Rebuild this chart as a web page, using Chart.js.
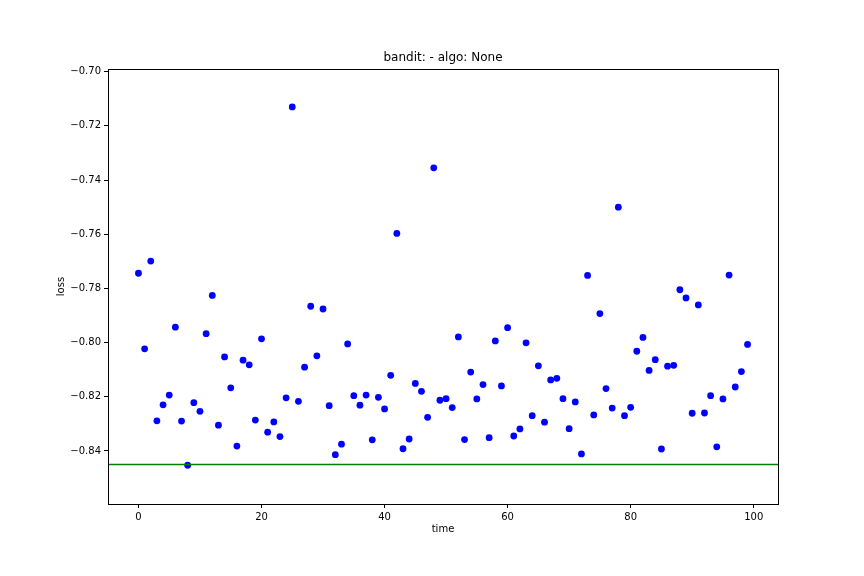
<!DOCTYPE html>
<html>
<head>
<meta charset="utf-8">
<script src="https://cdn.jsdelivr.net/npm/chart.js@4"></script>
<style>
  body { margin: 0; background: #fff; }
</style>
</head>
<body>
<canvas id="lossChart" width="864" height="576"></canvas>
<script>
// loss per time step
const lossValues = [
  -0.7744, -0.8023, -0.7699, -0.8289, -0.8230, -0.8194, -0.7943, -0.8290, -0.8453, -0.8222,
  -0.8254, -0.7967, -0.7826, -0.8305, -0.8053, -0.8167, -0.8382, -0.8065, -0.8082, -0.8286,
  -0.7986, -0.8331, -0.8293, -0.8347, -0.8204, -0.7130, -0.8217, -0.8091, -0.7866, -0.8049,
  -0.7876, -0.8233, -0.8414, -0.8375, -0.8005, -0.8196, -0.8231, -0.8194, -0.8359, -0.8202,
  -0.8245, -0.8121, -0.7597, -0.8392, -0.8356, -0.8151, -0.8180, -0.8276, -0.7355, -0.8213,
  -0.8207, -0.8240, -0.7979, -0.8358, -0.8109, -0.8208, -0.8155, -0.8351, -0.7994, -0.8160,
  -0.7945, -0.8345, -0.8319, -0.8001, -0.8270, -0.8086, -0.8294, -0.8138, -0.8132, -0.8207,
  -0.8318, -0.8219, -0.8411, -0.7752, -0.8267, -0.7893, -0.8170, -0.8242, -0.7500, -0.8270,
  -0.8239, -0.8032, -0.7981, -0.8103, -0.8063, -0.8393, -0.8087, -0.8084, -0.7805, -0.7835,
  -0.8261, -0.7861, -0.8260, -0.8196, -0.8385, -0.8208, -0.7751, -0.8164, -0.8107, -0.8007
];
const timeSteps = lossValues.map((_, i) => i);
const baselineLoss = -0.845;

const xTicks = [0, 20, 40, 60, 80, 100];
const yTicks = [-0.84, -0.82, -0.80, -0.78, -0.76, -0.74, -0.72, -0.70];
const chartTitle = 'bandit: - algo: None';

const X_MIN = -4.95, X_MAX = 103.95;
const Y_MIN = -0.8596, Y_MAX = -0.699;
const FONT = 'DejaVu Sans';

// frame around the plot area + title centred over the axes (like matplotlib)
const framePlugin = {
  id: 'frame',
  afterDraw(chart) {
    const { ctx, chartArea: a } = chart;
    ctx.save();
    ctx.strokeStyle = '#000';
    ctx.lineWidth = 1;
    ctx.strokeRect(Math.round(a.left) + 0.5, Math.round(a.top) + 0.5,
                   Math.round(a.right - a.left), Math.round(a.bottom - a.top));
    ctx.fillStyle = '#000';
    ctx.font = '12px "' + FONT + '"';
    ctx.textAlign = 'center';
    ctx.textBaseline = 'middle';
    ctx.fillText(chartTitle, (a.left + a.right) / 2, a.top - 11);
    ctx.restore();
  }
};

const ctx = document.getElementById('lossChart').getContext('2d');
new Chart(ctx, {
  type: 'scatter',
  data: {
    datasets: [
      {
        type: 'line',
        data: [{ x: X_MIN, y: baselineLoss }, { x: X_MAX, y: baselineLoss }],
        borderColor: '#008000',
        borderWidth: 1.5,
        pointRadius: 0,
        fill: false
      },
      {
        data: timeSteps.map((t, i) => ({ x: t, y: lossValues[i] })),
        backgroundColor: '#0000ff',
        borderColor: '#0000ff',
        borderWidth: 0,
        pointRadius: 3.4
      }
    ]
  },
  options: {
    responsive: false,
    animation: false,
    layout: { padding: { left: 0, right: 86, top: 69, bottom: 0 } },
    plugins: {
      legend: { display: false },
      tooltip: { enabled: false },
      title: { display: false }
    },
    scales: {
      x: {
        type: 'linear',
        min: X_MIN,
        max: X_MAX,
        afterBuildTicks: (scale) => { scale.ticks = xTicks.map(v => ({ value: v })); },
        afterFit: (scale) => { scale.height = 72; },
        grid: { drawOnChartArea: false, drawTicks: true, tickLength: 4, color: '#000', lineWidth: 1 },
        border: { display: false },
        ticks: { color: '#000', font: { family: FONT, size: 10 }, padding: 3, maxRotation: 0,
                 callback: (v) => String(v) },
        title: { display: true, text: 'time', color: '#000', font: { family: FONT, size: 10 },
                 padding: { top: 0, bottom: 41 } }
      },
      y: {
        type: 'linear',
        min: Y_MIN,
        max: Y_MAX,
        afterBuildTicks: (scale) => { scale.ticks = yTicks.map(v => ({ value: v })); },
        afterFit: (scale) => { scale.width = 108; },
        grid: { drawOnChartArea: false, drawTicks: true, tickLength: 4, color: '#000', lineWidth: 1 },
        border: { display: false },
        ticks: { color: '#000', font: { family: FONT, size: 10 }, padding: 3,
                 callback: (v) => v.toFixed(2).replace('-', '\u2212') },
        title: { display: true, text: 'loss', color: '#000', font: { family: FONT, size: 10 },
                 padding: { top: 55, bottom: 0 } }
      }
    }
  },
  plugins: [framePlugin]
});
</script>
</body>
</html>
